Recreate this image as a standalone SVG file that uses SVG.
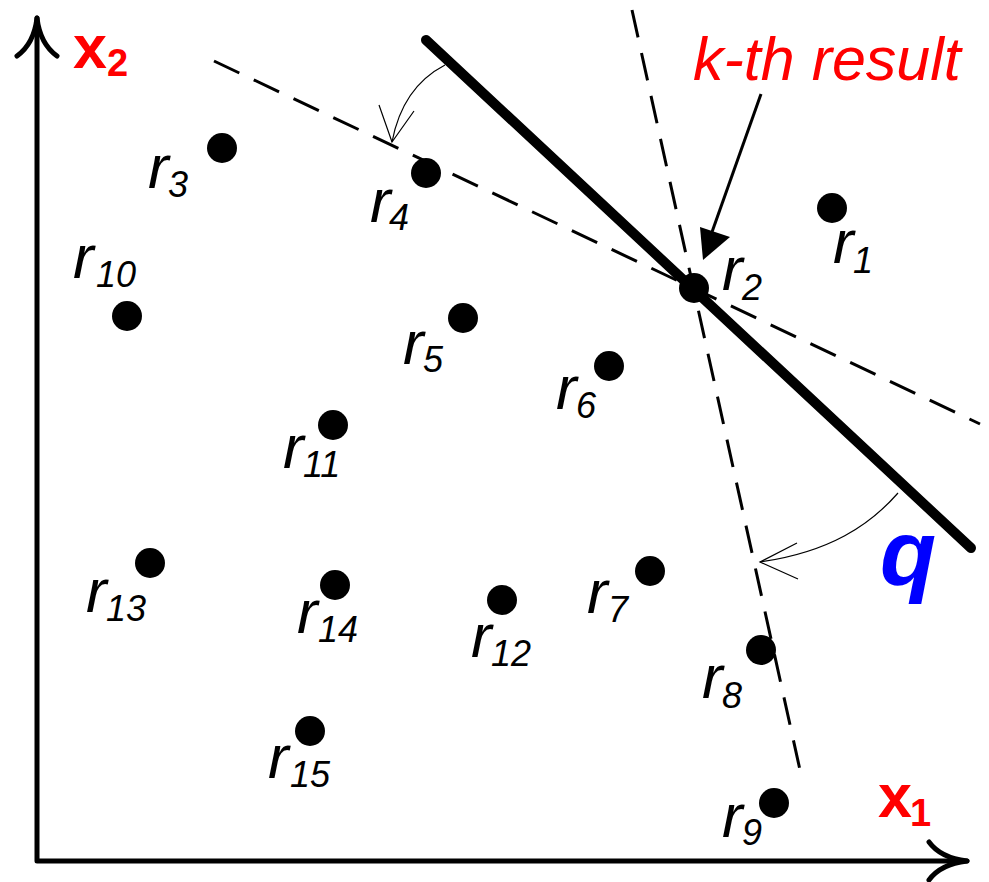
<svg xmlns="http://www.w3.org/2000/svg" width="989" height="882" viewBox="0 0 989 882">
<style>
.pt{fill:#000}
.r{font-family:"Liberation Sans",Arial,sans-serif;font-style:italic;font-size:62px;fill:#000}
.s{font-family:"Liberation Sans",Arial,sans-serif;font-style:italic;font-size:36px;fill:#000}
.ax{fill:none;stroke:#000;stroke-width:5;stroke-linecap:round;stroke-linejoin:round}
.dash{fill:none;stroke:#000;stroke-width:3;stroke-dasharray:28 16}
.thin{fill:none;stroke:#000;stroke-width:1.2}
.lab{font-family:"Liberation Sans",Arial,sans-serif;font-weight:bold;fill:#ff0000}
</style>
<rect width="989" height="882" fill="#fff"/>
<g id="axes">
<path class="ax" d="M37,18 L37,861 L967,861"/>
<path class="ax" d="M17,56 C28,48 35,35 37,18 C39,35 46,48 57,56"/>
<path class="ax" d="M929,842 C937,853 950,859 967,861 C950,863 937,869 929,880"/>
<text class="lab" x="73" y="68" font-size="61">x</text><text class="lab" x="107" y="76" font-size="38">2</text>
<text class="lab" x="878" y="817" font-size="61">x</text><text class="lab" x="910" y="826" font-size="38">1</text>
</g>
<g id="connectors">
<line class="dash" x1="214" y1="61" x2="980" y2="424"/>
<line class="dash" x1="632" y1="10" x2="800" y2="770"/>
<line x1="426" y1="40" x2="971" y2="548" stroke="#000" stroke-width="10" stroke-linecap="round"/>
<path class="thin" d="M445,65 C420,78 400,100 392,142"/>
<path class="thin" d="M379,105 L392,142 L414,111"/>
<path class="thin" d="M898,493 C870,525 830,552 760,562"/>
<path class="thin" d="M797,543 L760,562 L798,579"/>
<line x1="761" y1="94" x2="712" y2="232" stroke="#000" stroke-width="3"/>
<polygon points="703,260 700,227 730,237" fill="#000"/>
</g>
<g id="kth"><text x="693" y="80" font-family="'Liberation Sans',Arial,sans-serif" font-style="italic" font-size="61" fill="#ff0000">k-th result</text></g>
<g id="q"><text x="880" y="585" font-family="'Liberation Sans',Arial,sans-serif" font-style="italic" font-weight="bold" font-size="92" fill="#0000ff">q</text></g>
<g id="r1"><circle class="pt" cx="832" cy="208" r="15"/><text class="r" x="833" y="263">r</text><text class="s" x="853" y="273">1</text></g>
<g id="r2"><circle class="pt" cx="694" cy="288" r="15"/><text class="r" x="722" y="290">r</text><text class="s" x="742" y="300">2</text></g>
<g id="r3"><circle class="pt" cx="222" cy="148" r="15"/><text class="r" x="148" y="188">r</text><text class="s" x="168" y="197">3</text></g>
<g id="r4"><circle class="pt" cx="426" cy="173" r="15"/><text class="r" x="370" y="222">r</text><text class="s" x="389" y="230">4</text></g>
<g id="r5"><circle class="pt" cx="463" cy="318" r="15"/><text class="r" x="403" y="364">r</text><text class="s" x="423" y="372">5</text></g>
<g id="r6"><circle class="pt" cx="609" cy="366" r="15"/><text class="r" x="556" y="409">r</text><text class="s" x="576" y="418">6</text></g>
<g id="r7"><circle class="pt" cx="650" cy="571" r="15"/><text class="r" x="587" y="613">r</text><text class="s" x="608" y="622">7</text></g>
<g id="r8"><circle class="pt" cx="761" cy="650" r="15"/><text class="r" x="702" y="698">r</text><text class="s" x="722" y="708">8</text></g>
<g id="r9"><circle class="pt" cx="774" cy="803" r="15"/><text class="r" x="722" y="837">r</text><text class="s" x="742" y="845">9</text></g>
<g id="r10"><circle class="pt" cx="127" cy="316" r="15"/><text class="r" x="73" y="278">r</text><text class="s" x="96" y="287">10</text></g>
<g id="r11"><circle class="pt" cx="333" cy="425" r="15"/><text class="r" x="283" y="468">r</text><text class="s" x="303" y="477">11</text></g>
<g id="r12"><circle class="pt" cx="502" cy="600" r="15"/><text class="r" x="471" y="657">r</text><text class="s" x="491" y="666">12</text></g>
<g id="r13"><circle class="pt" cx="150" cy="563" r="15"/><text class="r" x="86" y="612">r</text><text class="s" x="106" y="621">13</text></g>
<g id="r14"><circle class="pt" cx="335" cy="585" r="15"/><text class="r" x="297" y="633">r</text><text class="s" x="318" y="642">14</text></g>
<g id="r15"><circle class="pt" cx="310" cy="731" r="15"/><text class="r" x="268" y="778">r</text><text class="s" x="290" y="787">15</text></g>
</svg>
